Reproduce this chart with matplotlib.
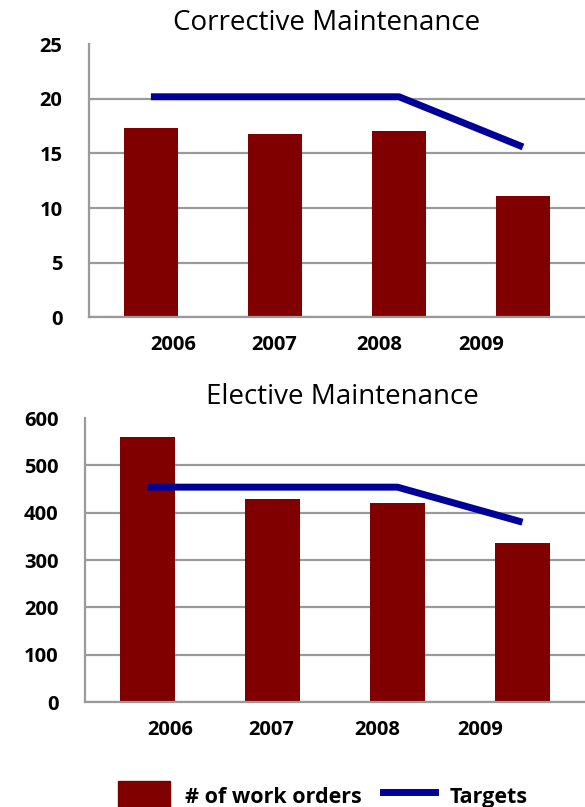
import matplotlib
matplotlib.use('Agg')
import matplotlib.pyplot as plt
from matplotlib.patches import Patch
from matplotlib.lines import Line2D

plt.rcParams['font.family'] = ['Open Sans', 'DejaVu Sans']

# data
years = ['2006', '2007', '2008', '2009']
corrective_orders = [17.3, 16.8, 17.1, 11.1]
corrective_targets = [20.2, 20.2, 20.2, 15.6]
elective_orders = [560, 428, 421, 336]
elective_targets = [454, 454, 454, 380]

bar_color = '#800000'
line_color = '#000099'
grid_color = '#9a9a9a'

# year labels sit a bit off the bar centres in the original
tick_pos = [0.18, 0.99, 1.84, 2.66]

fig = plt.figure(figsize=(5.85, 8.07), dpi=100)
ax1 = fig.add_axes([0.152, 0.607, 0.848, 0.338])
ax2 = fig.add_axes([0.145, 0.130, 0.855, 0.352])


def draw_panel(ax, orders, targets, title, ymax, step, title_x):
    x = range(len(years))
    ax.bar(x, orders, width=0.44, color=bar_color, zorder=2)
    ax.plot(x, targets, color=line_color, linewidth=5, solid_capstyle='butt', zorder=3)
    ax.set_xlim(-0.5, 3.5)
    ax.set_ylim(0, ymax)
    ax.set_yticks(range(0, ymax + 1, step))
    ax.set_xticks(tick_pos)
    ax.set_xticklabels(years)
    ax.yaxis.grid(True, color=grid_color, linewidth=1.6, zorder=1)
    ax.yaxis.get_gridlines()[-1].set_visible(False)
    for side in ['top', 'right']:
        ax.spines[side].set_visible(False)
    for side in ['left', 'bottom']:
        ax.spines[side].set_color(grid_color)
        ax.spines[side].set_linewidth(1.6)
    ax.tick_params(length=0, labelsize=14.5)
    ax.tick_params(axis='y', pad=19)
    ax.tick_params(axis='x', pad=13)
    for lab in ax.get_xticklabels() + ax.get_yticklabels():
        lab.set_fontweight('bold')
    ax.set_title(title, fontsize=20, pad=10, x=title_x)


draw_panel(ax1, corrective_orders, corrective_targets, 'Corrective Maintenance', 25, 5, 0.48)
draw_panel(ax2, elective_orders, elective_targets, 'Elective Maintenance', 600, 100, 0.514)

handles = [Patch(color=bar_color, label='# of work orders'),
           Line2D([0], [0], color=line_color, linewidth=5, label='Targets')]
leg = fig.legend(handles=handles, loc='center', bbox_to_anchor=(0.552, 0.014), ncol=2,
                 frameon=False, prop={'weight': 'bold', 'size': 15.5},
                 handlelength=2.4, handleheight=1.7, handletextpad=0.7,
                 columnspacing=1.0)

fig.savefig('out.png', dpi=100)
